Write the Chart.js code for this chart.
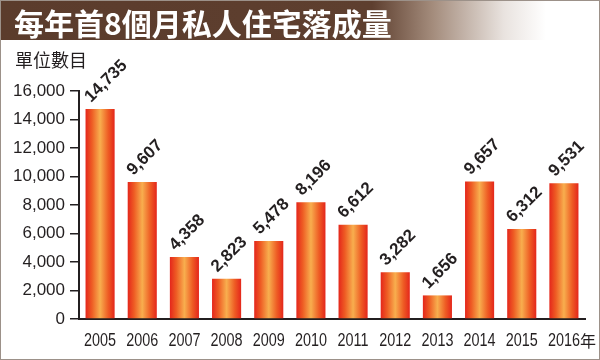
<!DOCTYPE html>
<html>
<head>
<meta charset="utf-8">
<script src="https://cdn.jsdelivr.net/npm/chart.js@4"></script>
<style>
    body { margin: 0; background: #fff; }
    #wrap { position: relative; width: 600px; height: 360px; overflow: hidden; background: #fff; }
    #chart { position: absolute; left: 0; top: 0; }
    #title {
        position: absolute; left: 0; top: 0; width: 600px; height: 40px;
        background: linear-gradient(to right, #5b3c2c 0%, #5e3f2f 62%, #a38b7b 72%, #e9e3df 84%, #ffffff 91%);
        color: #fff; font: bold 30px "Noto Sans CJK TC", sans-serif;
        line-height: 44px; padding-left: 14px; box-sizing: border-box; white-space: nowrap;
    }
    #unit {
        position: absolute; left: 15px; top: 46px;
        font: 18px "Noto Sans CJK TC", sans-serif; color: #231f20;
    }
    #frame {
        position: absolute; left: 0; top: 0; width: 600px; height: 360px;
        box-sizing: border-box; border: 1px solid #9c9189; pointer-events: none;
    }
</style>
</head>
<body>
<div id="wrap">
    <canvas id="chart" width="600" height="360"></canvas>
    <div id="title">每年首8個月私人住宅落成量</div>
    <div id="unit">單位數目</div>
    <div id="frame"></div>
</div>
<script>
const years = ['2005', '2006', '2007', '2008', '2009', '2010', '2011', '2012', '2013', '2014', '2015', '2016'];
const completions = [14735, 9607, 4358, 2823, 5478, 8196, 6612, 3282, 1656, 9657, 6312, 9531];
const yearSuffix = '年';
const yMax = 16000;
const yStep = 2000;

const barPct = 0.69;
const ink = '#231f20';

function barGradient(c) {
    const xs = c.chart.scales.x;
    if (!xs || !xs.width) return '#ef6a2a';
    const cx = xs.getPixelForValue(c.dataIndex);
    const half = xs.width / years.length * barPct / 2;
    const g = c.chart.ctx.createLinearGradient(cx - half, 0, cx + half, 0);
    g.addColorStop(0, '#e4261b');
    g.addColorStop(0.22, '#ee5c24');
    g.addColorStop(0.5, '#f8ae4e');
    g.addColorStop(0.78, '#ee5c24');
    g.addColorStop(1, '#e4261b');
    return g;
}

// rotated numbers above each bar
const valueLabels = {
    id: 'valueLabels',
    afterDatasetsDraw(chart) {
        const ctx = chart.ctx;
        const meta = chart.getDatasetMeta(0);
        ctx.save();
        ctx.fillStyle = ink;
        ctx.font = 'bold 17px "Liberation Sans", Arial, sans-serif';
        ctx.textAlign = 'left';
        ctx.textBaseline = 'alphabetic';
        meta.data.forEach((bar, i) => {
            ctx.save();
            ctx.translate(bar.x - 9, bar.y - 6);
            ctx.rotate(-Math.PI / 4);
            ctx.fillText(completions[i].toLocaleString('en-US'), 0, 0);
            ctx.restore();
        });
        ctx.restore();
    }
};

// year labels in a condensed look, placed on the x scale's ticks, plus "年"
const yearLabels = {
    id: 'yearLabels',
    afterDraw(chart) {
        const xs = chart.scales.x;
        const ctx = chart.ctx;
        const squeeze = 0.8;
        const y = 341;
        ctx.save();
        ctx.fillStyle = ink;
        ctx.textBaseline = 'middle';
        ctx.font = '18px "Liberation Sans", Arial, sans-serif';
        years.forEach((yr, i) => {
            const cx = xs.getPixelForValue(i);
            ctx.save();
            ctx.translate(cx, y);
            ctx.scale(squeeze, 1);
            ctx.textAlign = 'center';
            ctx.fillText(yr, 0, 0);
            ctx.restore();
        });
        const last = years.length - 1;
        const w = ctx.measureText(years[last]).width * squeeze;
        ctx.font = '16px "Noto Sans CJK TC", sans-serif';
        ctx.textAlign = 'left';
        ctx.fillText(yearSuffix, xs.getPixelForValue(last) + w / 2, y);
        ctx.restore();
    }
};

new Chart(document.getElementById('chart'), {
    type: 'bar',
    data: {
        labels: years,
        datasets: [{
            data: completions,
            backgroundColor: barGradient,
            borderWidth: 0,
            barPercentage: barPct,
            categoryPercentage: 1
        }]
    },
    options: {
        responsive: false,
        animation: false,
        layout: { padding: { top: 91, right: 15, bottom: 0, left: 0 } },
        plugins: { legend: { display: false }, tooltip: { enabled: false } },
        scales: {
            x: {
                afterFit: s => { s.height = 41; },
                grid: { display: false, drawTicks: false },
                border: { color: ink, width: 2 },
                ticks: { display: false }
            },
            y: {
                min: 0,
                max: yMax,
                afterFit: s => { s.width = 79; },
                grid: { drawOnChartArea: false, tickLength: 9, color: ink, lineWidth: 1.5 },
                border: { color: ink, width: 2 },
                ticks: {
                    stepSize: yStep,
                    color: ink,
                    padding: 5,
                    font: { family: '"Liberation Sans", Arial, sans-serif', size: 17 },
                    callback: v => v.toLocaleString('en-US')
                }
            }
        }
    },
    plugins: [valueLabels, yearLabels]
});
</script>
</body>
</html>
